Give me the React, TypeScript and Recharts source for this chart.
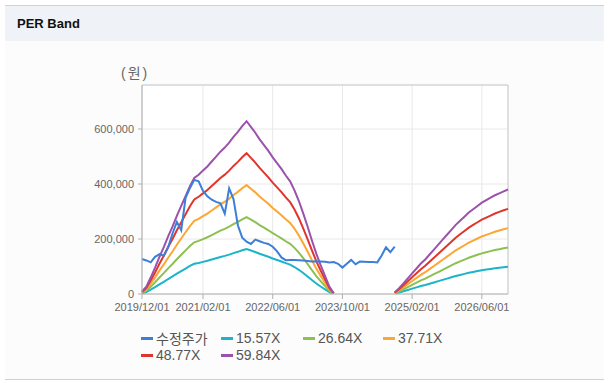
import React from 'react';
import { LineChart, Line, XAxis, YAxis, CartesianGrid, ReferenceLine } from 'recharts';

const dates: string[] = [
  '2019/12/01',
  '2020/01/01', '2020/02/01', '2020/03/01', '2020/04/01', '2020/05/01', '2020/06/01',
  '2020/07/01', '2020/08/01', '2020/09/01', '2020/10/01', '2020/11/01', '2020/12/01',
  '2021/01/01', '2021/02/01', '2021/03/01', '2021/04/01', '2021/05/01', '2021/06/01',
  '2021/07/01', '2021/08/01', '2021/09/01', '2021/10/01', '2021/11/01', '2021/12/01',
  '2022/01/01', '2022/02/01', '2022/03/01', '2022/04/01', '2022/05/01', '2022/06/01',
  '2022/07/01', '2022/08/01', '2022/09/01', '2022/10/01', '2022/11/01', '2022/12/01',
  '2023/01/01', '2023/02/01', '2023/03/01', '2023/04/01', '2023/05/01', '2023/06/01',
  '2023/07/01', '2023/08/01', '2023/09/01', '2023/10/01', '2023/11/01', '2023/12/01',
  '2024/01/01', '2024/02/01', '2024/03/01', '2024/04/01', '2024/05/01', '2024/06/01',
  '2024/07/01', '2024/08/01', '2024/09/01', '2024/10/01', '2024/11/01', '2024/12/01',
  '2025/01/01', '2025/02/01', '2025/03/01', '2025/04/01', '2025/05/01', '2025/06/01',
  '2025/07/01', '2025/08/01', '2025/09/01', '2025/10/01', '2025/11/01', '2025/12/01',
  '2026/01/01', '2026/02/01', '2026/03/01', '2026/04/01', '2026/05/01', '2026/06/01',
  '2026/07/01', '2026/08/01', '2026/09/01', '2026/10/01', '2026/11/01', '2026/12/01',
];

const xTicks: string[] = ['2019/12/01', '2021/02/01', '2022/06/01', '2023/10/01', '2025/02/01', '2026/06/01'];
const yTicks: number[] = [0, 200000, 400000, 600000];

// 수정주가 (adjusted price)
const price: (number | null)[] = [
  127000, 122000, 115000, 135000, 145000, 139000, 170000, 220000, 262000, 232000, 350000, 385000,
  415000, 410000, 375000, 355000, 343000, 335000, 330000, 292000, 384000, 345000, 250000, 205000,
  190000, 182000, 198000, 192000, 186000, 182000, 172000, 155000, 133000, 123000, 124000, 124000,
  123000, 122000, 120000, 118000, 119000, 118000, 117000, 115000, 116000, 110000, 96000, 110000,
  124000, 108000, 118000, 117000, 116000, 116000, 115000, 140000, 170000, 152000, 172000,
  null, null, null, null, null, null, null, null, null, null, null, null, null,
  null, null, null, null, null, null, null, null, null, null, null, null, null,
];

// EPS base
const eps: (number | null)[] = [
  150, 450, 1000, 1600, 2250, 2850, 3500, 4100, 4750, 5350, 5950, 6550,
  7050, 7250, 7500, 7750, 8050, 8350, 8650, 8900, 9200, 9550, 9850, 10200,
  10500, 10150, 9800, 9400, 9050, 8700, 8300, 7950, 7600, 7200, 6850, 6300,
  5650, 4900, 4100, 3250, 2450, 1750, 1100, 450, 50,
  null, null, null, null, null, null, null, null, null, null, null, null, null,
  100, 350, 650, 950, 1250, 1550, 1850, 2100, 2400, 2700, 3000, 3300,
  3600, 3900, 4200, 4450, 4700, 4950, 5150, 5350, 5550, 5700, 5850, 6000,
  6120, 6240, 6350,
];

const multiples: number[] = [15.57, 26.64, 37.71, 48.77, 59.84];
const bandNames: string[] = ['15.57X', '26.64X', '37.71X', '48.77X', '59.84X'];
const bandColors: string[] = ['#1ab5c9', '#8cc152', '#fca733', '#e0352c', '#9c52ad'];
const priceName = '수정주가';
const priceColor = '#3b7fd8';

const data = dates.map((d, i) => {
  const row: Record<string, string | number | null> = { date: d, price: price[i] };
  multiples.forEach((m, k) => {
    const e = eps[i];
    row['b' + k] = e == null ? null : Math.round(e * m);
  });
  return row;
});

const FONT = "'Liberation Sans', Arial, 'Noto Sans CJK KR', sans-serif";

const legendItems = [
  { name: priceName, color: priceColor, x: 141, y: 338 },
  { name: bandNames[0], color: bandColors[0], x: 221, y: 338 },
  { name: bandNames[1], color: bandColors[1], x: 303, y: 338 },
  { name: bandNames[2], color: bandColors[2], x: 383, y: 338 },
  { name: bandNames[3], color: bandColors[3], x: 141, y: 355 },
  { name: bandNames[4], color: bandColors[4], x: 221, y: 355 },
];

export default function App() {
  return (
    <div style={{ position: 'absolute', left: 0, top: 0, width: 612, height: 383, background: '#ffffff', fontFamily: FONT, overflow: 'hidden' }}>
      <div style={{ position: 'absolute', left: 5, top: 5, width: 599, height: 373, background: '#fcfcfc', borderTop: '1px solid #cfd3d9', borderBottom: '1px solid #d0d0d0' }} />
      <div style={{ position: 'absolute', left: 5, top: 6, width: 599, height: 35, background: '#eff3f8' }} />
      <div style={{ position: 'absolute', left: 17, top: 16, fontSize: 13, fontWeight: 'bold', color: '#111', lineHeight: '16px' }}>PER Band</div>
      <div style={{ position: 'absolute', left: 121, top: 64, fontSize: 14, color: '#666', lineHeight: '18px', letterSpacing: 2 }}>(원)</div>
      <div style={{ position: 'absolute', left: 0, top: 0 }}>
        <LineChart width={612} height={383} data={data} margin={{ top: 85, right: 104, bottom: 59, left: 0 }}>
          <CartesianGrid stroke="#e8e8e8" fill="#ffffff" />
          <XAxis
            dataKey="date"
            ticks={xTicks}
            interval={0}
            height={30}
            tickSize={5}
            tickMargin={4}
            tick={{ fontSize: 11, fill: '#666', fontFamily: FONT }}
            axisLine={{ stroke: '#b0b0b0' }}
            tickLine={{ stroke: '#b0b0b0' }}
          />
          <YAxis
            type="number"
            domain={[0, 760000]}
            ticks={yTicks}
            allowDataOverflow
            width={142}
            tickSize={4}
            tickMargin={4}
            tickFormatter={(v: number) => v.toLocaleString('en-US')}
            tick={{ fontSize: 11, fill: '#666', fontFamily: FONT }}
            axisLine={{ stroke: '#b0b0b0' }}
            tickLine={{ stroke: '#b0b0b0' }}
          />
          <ReferenceLine y={760000} stroke="#cccccc" />
          <ReferenceLine x="2026/12/01" stroke="#cccccc" />
          {multiples.map((m, k) => (
            <Line
              key={k}
              type="linear"
              dataKey={'b' + k}
              name={bandNames[k]}
              stroke={bandColors[k]}
              strokeWidth={2}
              dot={false}
              activeDot={false}
              isAnimationActive={false}
            />
          ))}
          <Line
            type="linear"
            dataKey="price"
            name={priceName}
            stroke={priceColor}
            strokeWidth={2}
            dot={false}
            activeDot={false}
            isAnimationActive={false}
          />
        </LineChart>
      </div>
      {legendItems.map((it) => (
        <div key={it.name} style={{ position: 'absolute', left: it.x, top: it.y - 9, height: 18, display: 'flex', alignItems: 'center', fontSize: 14, color: '#555', whiteSpace: 'nowrap' }}>
          <span style={{ display: 'inline-block', width: 12, height: 3, background: it.color, marginRight: 3 }} />
          <span>{it.name}</span>
        </div>
      ))}
    </div>
  );
}
